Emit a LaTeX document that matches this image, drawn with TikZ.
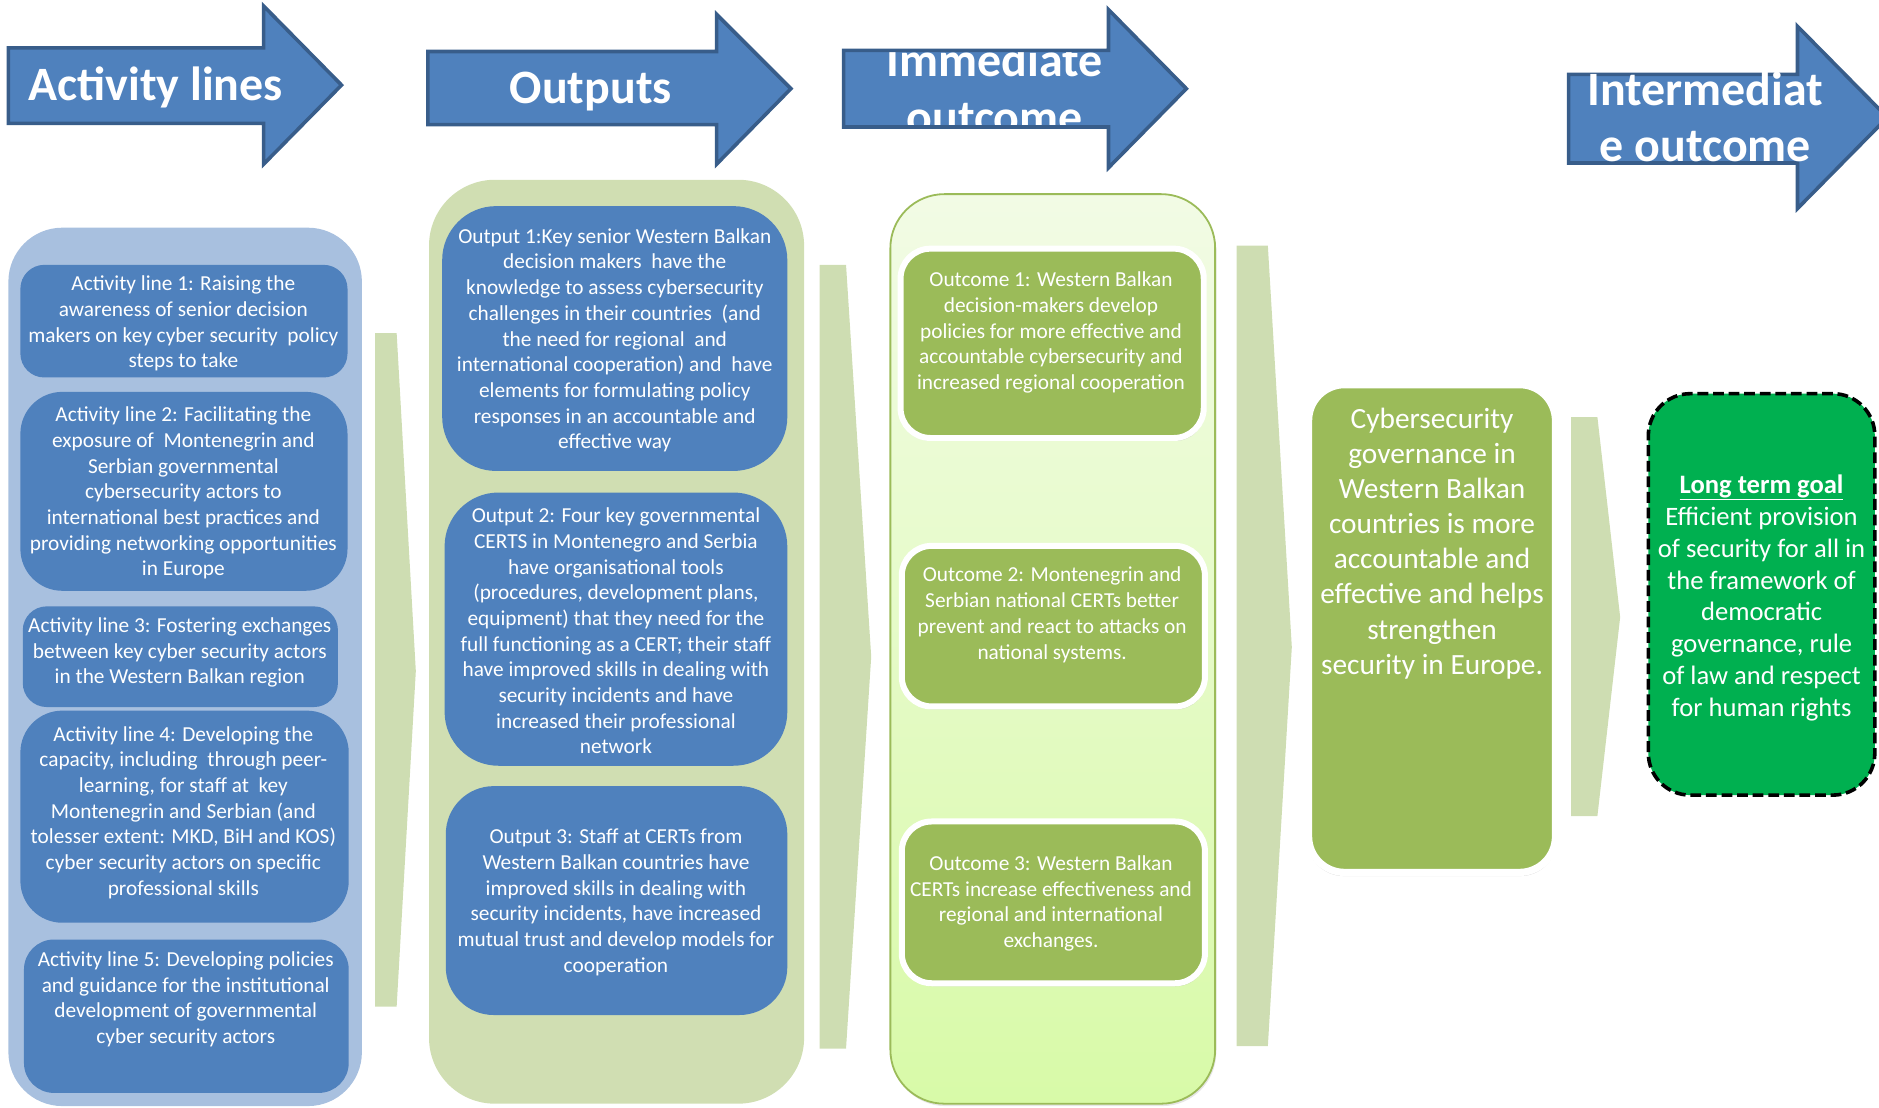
\documentclass[tikz,border=0pt]{standalone}
\usepackage{fontspec}
\setmainfont{Carlito}
\usetikzlibrary{shadows}
\definecolor{hblue}{HTML}{4F81BD}
\definecolor{hborder}{HTML}{385D8A}
\definecolor{albg}{HTML}{A8C0DF}
\definecolor{outbg}{HTML}{D0DEB2}
\definecolor{garrow}{HTML}{CEDDB2}
\definecolor{ocgreen}{HTML}{9BBB59}
\definecolor{octop}{HTML}{F2FBE5}
\definecolor{ocbot}{HTML}{D8FAA8}
\definecolor{ltgreen}{HTML}{00B050}
\begin{document}
\begin{tikzpicture}[x=1pt,y=-1pt,
  headfill/.style={fill=hblue},
  headline/.style={draw=hborder, line width=3pt, line join=miter},
  headtext/.style={text=white, font=\fontsize{40}{47.5}\selectfont\bfseries, align=center, inner sep=0pt},
  panel/.style={rectangle, inner sep=0pt},
  bluebox/.style={rectangle, fill=hblue, inner sep=0pt},
  btext/.style={text=white, align=center, font=\fontsize{17.8}{21.45}\selectfont, inner sep=0pt},
  flow/.style={fill=garrow},
  ocbox/.style={rectangle, fill=ocgreen, draw=white, line width=5pt, inner sep=0pt,
     drop shadow={opacity=0.3, shadow xshift=1pt, shadow yshift=-2.5pt}},
]
\useasboundingbox (0,0) rectangle (1568,924);
\clip (0,0) rectangle (1568,924);

% ---------- header arrows ----------
\fill[headfill] (7,40) -- (220,40) -- (220,5) -- (285,71) -- (220,137) -- (220,103) -- (7,103) -- cycle;
\begin{scope}
\clip (7,40) -- (220,40) -- (220,5) -- (285,71) -- (220,137) -- (220,103) -- (7,103) -- cycle;
\node[headtext] (h1) at (130,73) {Activity lines};
\end{scope}
\draw[headline] (7,40) -- (220,40) -- (220,5) -- (285,71) -- (220,137) -- (220,103) -- (7,103) -- cycle;

\fill[headfill] (357,43) -- (598,43) -- (598,12) -- (660,74) -- (598,137) -- (598,104) -- (357,104) -- cycle;
\begin{scope}
\clip (357,43) -- (598,43) -- (598,12) -- (660,74) -- (598,137) -- (598,104) -- (357,104) -- cycle;
\node[headtext] (h2) at (493,76) {Outputs};
\end{scope}
\draw[headline] (357,43) -- (598,43) -- (598,12) -- (660,74) -- (598,137) -- (598,104) -- (357,104) -- cycle;

\fill[headfill] (704,42) -- (925,42) -- (925,8) -- (990,74) -- (925,140) -- (925,106) -- (704,106) -- cycle;
\begin{scope}
\clip (704,42) -- (925,42) -- (925,8) -- (990,74) -- (925,140) -- (925,106) -- (704,106) -- cycle;
\node[headtext] (h3) at (830,73.4) {Immediate\\outcome};
\end{scope}
\draw[headline] (704,42) -- (925,42) -- (925,8) -- (990,74) -- (925,140) -- (925,106) -- (704,106) -- cycle;

\fill[headfill] (1309,62) -- (1500,62) -- (1500,22) -- (1575,98) -- (1500,174) -- (1500,136) -- (1309,136) -- cycle;
\draw[headline] (1309,62) -- (1500,62) -- (1500,22) -- (1575,98) -- (1500,174) -- (1500,136) -- (1309,136) -- cycle;
\node[headtext] (h4) at (1423,97.5) {Intermediat\\e outcome};

% ---------- column panels ----------
\node[panel, fill=albg, rounded corners=45pt, minimum width=295pt, minimum height=733pt] (col1) at (154.5,556.5) {};
\node[panel, fill=outbg, rounded corners=55pt, minimum width=313pt, minimum height=771pt] (col2) at (514.5,535.5) {};
\node[panel, top color=octop, bottom color=ocbot, draw=ocgreen, line width=1.5pt, rounded corners=45pt,
      minimum width=271pt, minimum height=759pt,
      drop shadow={opacity=0.2, shadow xshift=1pt, shadow yshift=-2pt}] (col3) at (878.5,541.5) {};

% ---------- flow arrows ----------
\fill[flow] (313,278) -- (331,278) -- (347,560) -- (331,840) -- (313,840) -- cycle;
\fill[flow] (684,221) -- (706,221) -- (727,548) -- (706,875) -- (684,875) -- cycle;
\fill[flow] (1032,205) -- (1058,205) -- (1078,540) -- (1058,873) -- (1032,873) -- cycle;
\fill[flow] (1311,348) -- (1333,348) -- (1352,515) -- (1333,681) -- (1311,681) -- cycle;

% ---------- activity lines ----------
\node[bluebox, rounded corners=20pt, minimum width=273pt, minimum height=94pt] (al1) at (153.5,268) {};
\node[btext] (al1t) at (153,270) {Activity line 1: Raising the\\awareness of senior decision\\makers on key cyber security \ policy\\steps to take};
\node[bluebox, rounded corners=35pt, minimum width=273pt, minimum height=166pt] (al2) at (153.5,410) {};
\node[btext] (al2t) at (153,411.5) {Activity line 2: Facilitating the\\exposure of \ Montenegrin and\\Serbian governmental\\cybersecurity actors to\\international best practices and\\providing networking opportunities\\in Europe};
\node[bluebox, rounded corners=20pt, minimum width=263pt, minimum height=84pt] (al3) at (150.5,548) {};
\node[btext] (al3t) at (150,544.5) {Activity line 3: Fostering exchanges\\between key cyber security actors\\in the Western Balkan region};
\node[bluebox, rounded corners=35pt, minimum width=274pt, minimum height=177pt] (al4) at (154,681.5) {};
\node[btext] (al4t) at (153,678) {Activity line 4: Developing the\\capacity, including \ through peer-\\learning, for staff at \ key\\Montenegrin and Serbian (and\\tolesser extent: MKD, BiH and KOS)\\cyber security actors on specific\\professional skills};
\node[bluebox, rounded corners=25pt, minimum width=271pt, minimum height=128pt] (al5) at (155.5,848) {};
\node[btext] (al5t) at (155,834) {Activity line 5: Developing policies\\and guidance for the institutional\\development of governmental\\cyber security actors};

% ---------- outputs ----------
\node[bluebox, rounded corners=45pt, minimum width=288pt, minimum height=221pt] (o1) at (513,282.5) {};
\node[btext] (o1t) at (513,284) {Output 1:Key senior Western Balkan\\decision makers \ have the\\knowledge to assess cybersecurity\\challenges in their countries \ (and\\the need for regional \ and\\international cooperation) and \ have\\elements for formulating policy\\responses in an accountable and\\effective way};
\node[bluebox, rounded corners=45pt, minimum width=286pt, minimum height=228pt] (o2) at (514,525) {};
\node[btext] (o2t) at (514,526.5) {Output 2: Four key governmental\\CERTS in Montenegro and Serbia\\have organisational tools\\(procedures, development plans,\\equipment) that they need for the\\full functioning as a CERT; their staff\\have improved skills in dealing with\\security incidents and have\\increased their professional\\network};
\node[bluebox, rounded corners=40pt, minimum width=285pt, minimum height=191pt] (o3) at (514.5,751.5) {};
\node[btext] (o3t) at (514,753) {Output 3: Staff at CERTs from\\Western Balkan countries have\\improved skills in dealing with\\security incidents, have increased\\mutual trust and develop models for\\cooperation};

% ---------- immediate outcomes ----------
\node[ocbox, rounded corners=25pt, minimum width=253pt, minimum height=158pt] (oc1) at (878,286.5) {};
\node[btext] (oc1t) at (877,277.5) {Outcome 1: Western Balkan\\decision-makers develop\\policies for more effective and\\accountable cybersecurity and\\increased regional cooperation};
\node[ocbox, rounded corners=25pt, minimum width=253pt, minimum height=134pt] (oc2) at (879,522.5) {};
\node[btext] (oc2t) at (878,513) {Outcome 2: Montenegrin and\\Serbian national CERTs better\\prevent and react to attacks on\\national systems.};
\node[ocbox, rounded corners=25pt, minimum width=253pt, minimum height=135pt] (oc3) at (879,753) {};
\node[btext] (oc3t) at (877,754) {Outcome 3: Western Balkan\\CERTs increase effectiveness and\\regional and international\\exchanges.};

% ---------- intermediate outcome ----------
\node[ocbox, line width=6pt, rounded corners=30pt, minimum width=206pt, minimum height=407pt,
      drop shadow={opacity=0.35, shadow xshift=0pt, shadow yshift=-1pt, shadow scale=1.01}] (io) at (1195,524.5) {};
\node[btext, font=\fontsize{24.5}{29.3}\selectfont] (iot) at (1195,453.5) {Cybersecurity\\governance in\\Western Balkan\\countries is more\\accountable and\\effective and helps\\strengthen\\security in Europe.};

% ---------- long term goal ----------
\node[rectangle, fill=ltgreen, draw=black, line width=3pt, dash pattern=on 9pt off 4pt, rounded corners=35pt,
      minimum width=189pt, minimum height=335pt, inner sep=0pt] (lt) at (1470,496) {};
\node[btext, font=\fontsize{22.2}{26.6}\selectfont] (ltt) at (1470,499) {\underline{\textbf{Long term goal}}\\Efficient provision\\of security for all in\\the framework of\\democratic\\governance, rule\\of law and respect\\for human rights};
\end{tikzpicture}
\end{document}
